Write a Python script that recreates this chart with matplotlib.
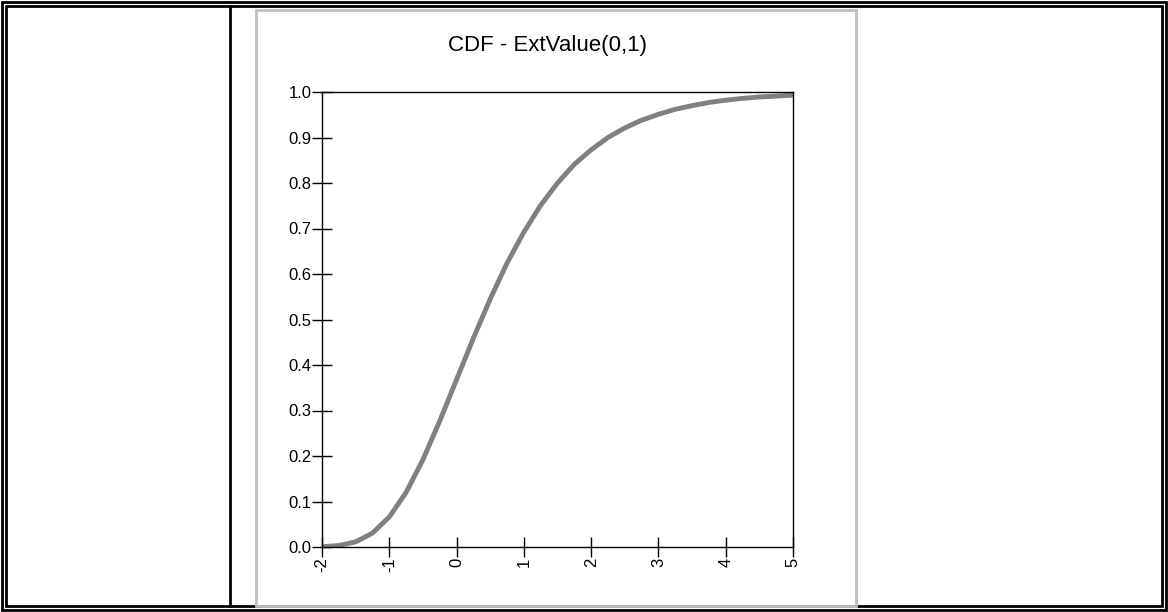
import matplotlib.pyplot as plt
from matplotlib.lines import Line2D
from matplotlib.patches import Rectangle

plt.rcParams['font.family'] = ['Liberation Sans', 'DejaVu Sans']

# values
x_values = [-2, -1.75, -1.5, -1.25, -1, -0.75, -0.5, -0.25, 0, 0.25, 0.5, 0.75, 1,
            1.25, 1.5, 1.75, 2, 2.25, 2.5, 2.75, 3, 3.25, 3.5, 3.75, 4, 4.25, 4.5, 4.75, 5]
cdf_values = [0.0006, 0.0032, 0.0113, 0.0305, 0.066, 0.120, 0.192, 0.277, 0.368, 0.459,
              0.545, 0.624, 0.692, 0.751, 0.800, 0.841, 0.873, 0.900, 0.921, 0.938,
              0.951, 0.962, 0.970, 0.977, 0.982, 0.986, 0.989, 0.991, 0.993]
x_ticks = [-2, -1, 0, 1, 2, 3, 4, 5]
y_ticks = [0.0, 0.1, 0.2, 0.3, 0.4, 0.5, 0.6, 0.7, 0.8, 0.9, 1.0]

W, H = 1168, 612
fig = plt.figure(figsize=(W / 100, H / 100), dpi=100)

def px(x0, y0, x1, y1, **kw):
    fig.add_artist(Line2D([x0 / W, x1 / W], [1 - y0 / H, 1 - y1 / H],
                          transform=fig.transFigure, **kw))

# table borders
for o in (2, 6):
    fig.add_artist(Rectangle((o / W, o / H), 1 - 2 * o / W, 1 - 2 * o / H, fill=False,
                             edgecolor='black', linewidth=2, transform=fig.transFigure))
px(230, 6, 230, 606, color='black', linewidth=2)
# grey chart panel
fig.add_artist(Rectangle((256 / W, 1 - 606 / H), 600 / W, 596 / H, fill=False,
                         edgecolor='#c0c0c0', linewidth=2, transform=fig.transFigure))

ax = fig.add_axes([322 / W, 1 - 547 / H, 471 / W, 455 / H])
ax.plot(x_values, cdf_values, color='#808080', linewidth=3.5, solid_capstyle='butt')
ax.set_xlim(-2, 5)
ax.set_ylim(0, 1)
ax.set_xticks(x_ticks)
ax.set_xticklabels([str(t) for t in x_ticks], rotation=90)
ax.set_yticks(y_ticks)
ax.set_yticklabels([f'{t:.1f}' for t in y_ticks])
ax.tick_params(direction='inout', length=15, width=1, labelsize=12, pad=0)
for s in ax.spines.values():
    s.set_linewidth(1)
fig.text(548 / W, 1 - 45 / H, 'CDF - ExtValue(0,1)', ha='center', va='center', fontsize=16)

fig.savefig('out.png', dpi=100)
